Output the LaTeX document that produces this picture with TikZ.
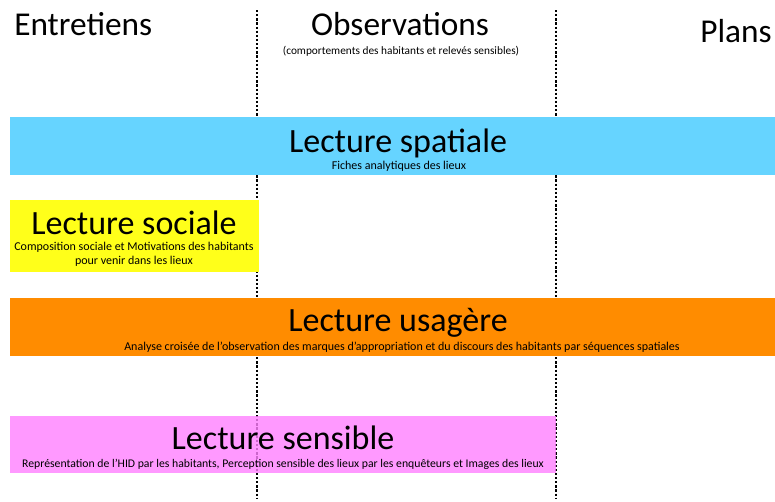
\documentclass[tikz,border=0pt]{standalone}
\usepackage{fontspec}
\setmainfont{Carlito}
\begin{document}
\begin{tikzpicture}[x=0.75pt,y=-0.75pt, line join=round]
	\tikzset{titre/.style={font=\fontsize{25}{28}\selectfont, inner sep=0pt},
		lecture/.style={font=\fontsize{25.5}{28}\selectfont, inner sep=0pt},
		detail/.style={font=\fontsize{9}{10.5}\selectfont, inner sep=0pt, align=center},
		separation/.style={line width=2pt, dash pattern=on 1.7pt off 1.4pt}}
	\definecolor{bleu}{RGB}{102,212,255}
	\definecolor{jaune}{RGB}{255,255,26}
	\definecolor{orange}{RGB}{255,140,0}
	\definecolor{rose}{RGB}{255,128,255}
	\useasboundingbox (0,0) rectangle (775,501);
	% colonnes
	\coordinate (haut1) at (257,10); \coordinate (bas1) at (257,498);
	\coordinate (haut2) at (556,10); \coordinate (bas2) at (556,498);
	\draw[separation] (haut1)--(bas1) (haut2)--(bas2);
	\node[titre, anchor=base west] (entretiens) at (14,35) {Entretiens};
	\node[titre, anchor=base] (observations) at (400,35) {Observations};
	\node[titre, anchor=base east] (plans) at (772,42) {Plans};
	\node[detail, font=\fontsize{8.5}{10}\selectfont, anchor=base] (comportements) at (401,54) {(comportements des habitants et relevés sensibles)};
	% lectures
	\fill[bleu] (10,117) rectangle (775,175);
	\node[lecture, anchor=base] (spatiale) at (398,152) {Lecture spatiale};
	\node[detail, anchor=base] (fiches) at (399,169) {Fiches analytiques des lieux};
	\fill[jaune] (10,200) rectangle (259,272);
	\node[lecture, anchor=base] (sociale) at (134,234) {Lecture sociale};
	\node[detail, anchor=base] (composition) at (134,264) {Composition sociale et Motivations des habitants\\pour venir dans les lieux};
	\fill[orange] (10,298) rectangle (775,356);
	\node[lecture, anchor=base] (usagere) at (398,331) {Lecture usagère};
	\node[detail, anchor=base] (analyse) at (402,350) {Analyse croisée de l'observation des marques d'appropriation et du discours des habitants par séquences spatiales};
	\fill[rose, fill opacity=.8] (10,416) rectangle (556,473);
	\node[lecture, anchor=base] (sensible) at (283,449) {Lecture sensible};
	\node[detail, font=\fontsize{8.8}{10.5}\selectfont, anchor=base] (representation) at (283,467) {Représentation de l'HID par les habitants, Perception sensible des lieux par les enquêteurs et Images des lieux};
\end{tikzpicture}
\end{document}
